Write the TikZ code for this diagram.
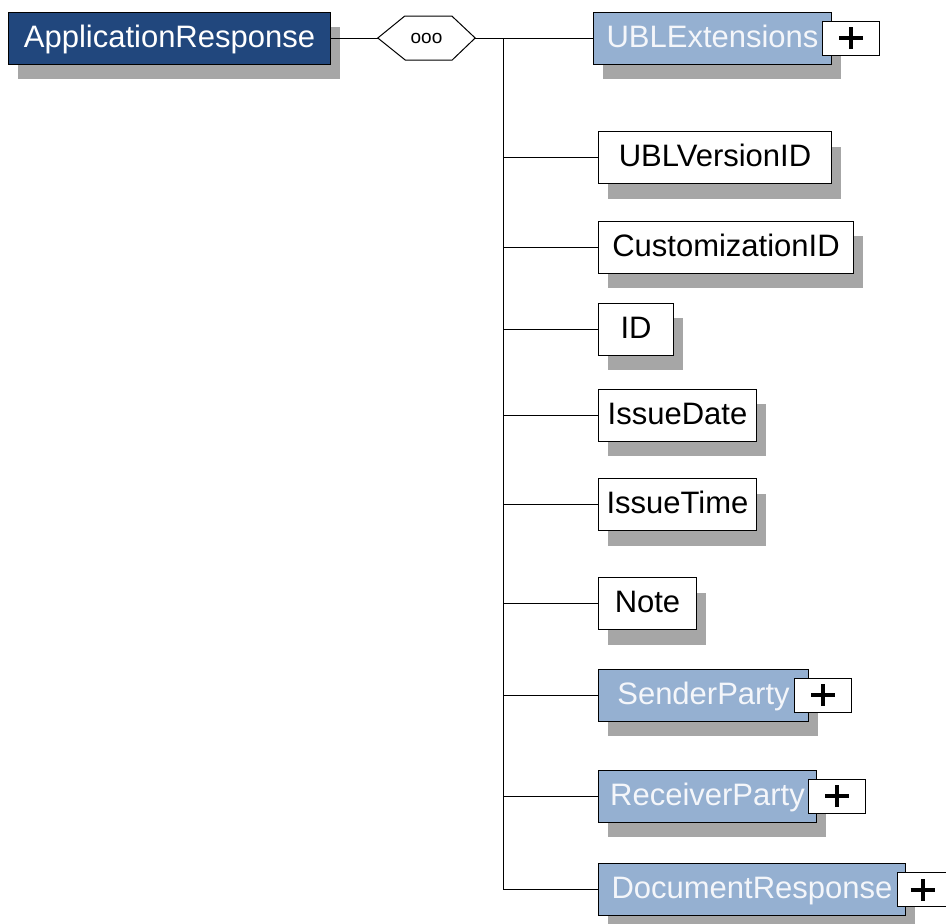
\documentclass[tikz,border=0pt]{standalone}
\usepackage{fontspec}
\setmainfont{Liberation Sans}
\usetikzlibrary{shadows}
\definecolor{darkblue}{HTML}{21477D}
\definecolor{lightblue}{HTML}{95B0D1}
\definecolor{shadowgray}{HTML}{A6A6A6}
\definecolor{paletext}{HTML}{F4F6FA}
\tikzset{
  elem/.style={draw=black, line width=1pt, fill=white, anchor=west, minimum height=52pt, inner sep=0pt,
    font=\fontsize{31}{36}\selectfont, text height=22pt, text depth=4pt,
    drop shadow={shadow xshift=9pt, shadow yshift=-15pt, fill=shadowgray, opacity=1}},
  rootelem/.style={elem, fill=darkblue, text=white},
  cplx/.style={elem, fill=lightblue, text=paletext},
  plusbox/.style={draw=black, line width=1pt, fill=white, anchor=west, minimum width=57pt, minimum height=34pt, inner sep=0pt},
  conn/.style={line width=1pt, draw=black}
}
\newcommand{\plussign}[1]{%
  \draw[line width=4pt] ([xshift=-12pt]#1.center) -- ([xshift=12pt]#1.center);
  \draw[line width=4pt] ([yshift=-11pt]#1.center) -- ([yshift=11pt]#1.center);}
\begin{document}
\begin{tikzpicture}[x=1pt, y=-1pt]
\useasboundingbox (0,0) rectangle (946,924);
% root
\node[rootelem, minimum width=322pt] (AR) at (8,38) {ApplicationResponse};
% sequence compositor
\node[minimum width=97pt, minimum height=44pt, inner sep=0pt, font=\fontsize{19}{22}\selectfont] (seq) at (426.5,38) {ooo};
\draw[line width=1pt, fill=white] (seq.west) -- ++(27,-22) -- ++(47,0) -- (seq.east) -- ++(-23,22) -- ++(-47,0) -- cycle;
\node[minimum width=97pt, minimum height=44pt, inner sep=0pt, font=\fontsize{19}{22}\selectfont] at (426.5,38) {ooo};
\coordinate (t0) at (503,38);
% children
\node[cplx, minimum width=238pt] (c1) at (593,38) {UBLExtensions};
\node[plusbox] (p1) at (822,38) {};
\node[elem, minimum width=233pt] (c2) at (598,157.5) {UBLVersionID};
\node[elem, minimum width=255pt] (c3) at (598,247) {CustomizationID};
\node[elem, minimum width=75pt] (c4) at (598,329) {ID};
\node[elem, minimum width=158pt] (c5) at (598,415) {IssueDate};
\node[elem, minimum width=158pt] (c6) at (598,504.5) {IssueTime};
\node[elem, minimum width=98pt] (c7) at (598,603.5) {Note};
\node[cplx, minimum width=210pt] (c8) at (598,695) {SenderParty};
\node[plusbox] (p8) at (794,695) {};
\node[cplx, minimum width=218pt] (c9) at (598,796) {ReceiverParty};
\node[plusbox] (p9) at (808,796) {};
\node[cplx, minimum width=307pt] (c10) at (598,889.5) {DocumentResponse};
\node[plusbox, minimum width=50pt] (p10) at (897,889.5) {};
\plussign{p1}
\plussign{p8}
\plussign{p9}
\draw[line width=4pt] ([xshift=-12pt]p10.center) -- ([xshift=12pt]p10.center);
\draw[line width=4pt] ([yshift=-11pt]p10.center) -- ([yshift=11pt]p10.center);
% connectors
\draw[conn] (AR.east) -- (seq.west);
\draw[conn] (seq.east) -- (c1.west);
\foreach \c in {c2,c3,c4,c5,c6,c7,c8,c9,c10}{
  \draw[conn] (t0) |- (\c.west);
}
\end{tikzpicture}
\end{document}
